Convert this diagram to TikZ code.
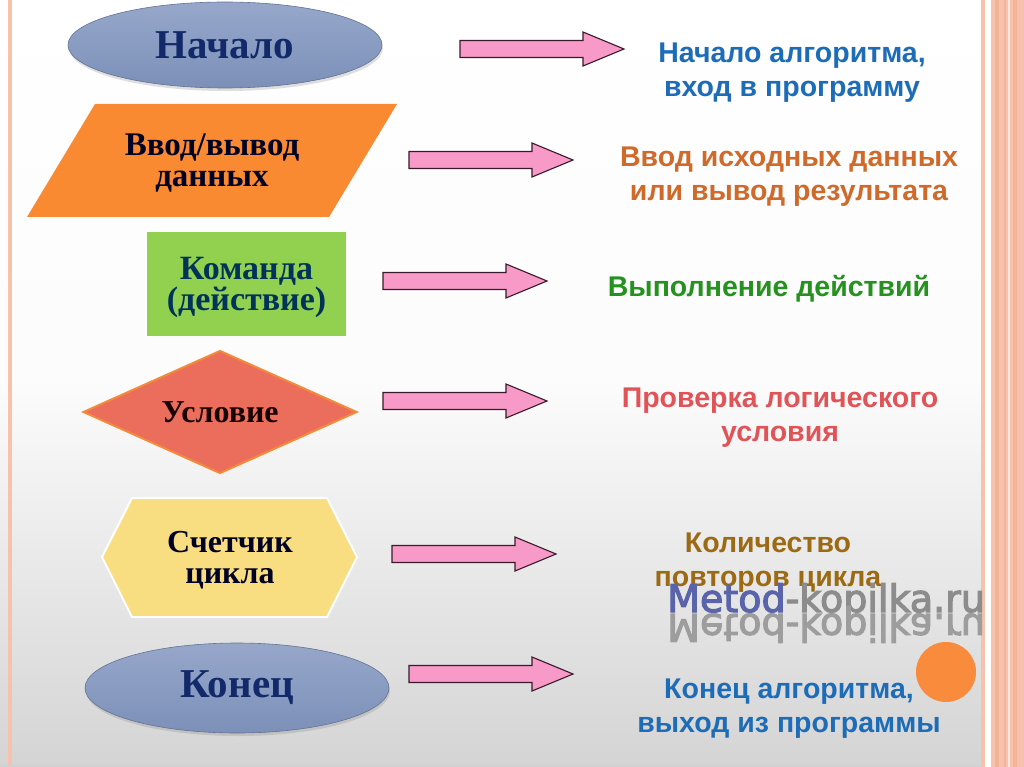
\documentclass[tikz,border=0pt]{standalone}
\usepackage{fontspec}
\usepackage{graphicx}
\setmainfont{Liberation Serif}
\newfontfamily\sansf{Liberation Sans}
\newfontfamily\wmf[BoldFont={DejaVu Sans},BoldFeatures={FakeBold=3}]{DejaVu Sans}
\usetikzlibrary{shapes.geometric,shadows}
\definecolor{bgbot}{HTML}{D4D4D4}
\definecolor{framepink}{HTML}{F6C2AC}
\definecolor{framedark}{HTML}{F4B49A}
\definecolor{elltop}{HTML}{96A7CA}
\definecolor{ellbot}{HTML}{7C90B8}
\definecolor{navy}{HTML}{12296A}
\definecolor{paraorange}{HTML}{F98A32}
\definecolor{boxgreen}{HTML}{92D050}
\definecolor{diafill}{HTML}{EB6E5C}
\definecolor{diaedge}{HTML}{F38B3B}
\definecolor{hexfill}{HTML}{F8DE80}
\definecolor{arrowpink}{HTML}{F79AC8}
\definecolor{arrowline}{HTML}{3A1A2A}
\definecolor{tblue}{HTML}{1D6CB8}
\definecolor{torange}{HTML}{CF6A2B}
\definecolor{tgreen}{HTML}{25921F}
\definecolor{tred}{HTML}{E05458}
\definecolor{tbrown}{HTML}{9C6A12}
\definecolor{wmblue}{HTML}{5A64AA}
\definecolor{wmgray}{HTML}{8C8C8C}
\definecolor{wmorange}{HTML}{F98B3C}
\tikzset{
  blockarrow/.pic={\draw[fill=arrowpink, draw=arrowline, line width=1.1pt, line join=miter]
     (0,-8.5) -- (123,-8.5) -- (123,-17) -- (164,0) -- (123,17) -- (123,8.5) -- (0,8.5) -- cycle;},
  termbox/.style={ellipse, inner sep=0pt, top color=elltop, bottom color=ellbot,
     draw=ellbot!80!black, line width=0.6pt,
     drop shadow={opacity=0.25, shadow xshift=1pt, shadow yshift=-3pt},
     text=navy, font=\bfseries\fontsize{41}{44}\selectfont},
  shapetext/.style={align=center, inner sep=0pt, font=\bfseries\fontsize{33}{31}\selectfont},
  desc/.style={align=center, inner sep=0pt, font=\sansf\bfseries\fontsize{28.5}{34}\selectfont},
}
\begin{document}
\begin{tikzpicture}[x=1pt, y=-1pt]
\useasboundingbox (0,0) rectangle (1024,767);
% background
\shade[top color=white, bottom color=bgbot, middle color=white!92!bgbot] (0,0) rectangle (1024,767);
% frame
\fill[framepink] (8,0) rectangle (12,767);
\fill[framepink] (981,0) rectangle (985,767);
\fill[white] (985,0) rectangle (991,767);
\fill[framepink] (991,0) rectangle (1024,767);
\fill[framedark] (995,0) rectangle (999,767);
\fill[framedark] (1004,0) rectangle (1006,767);
\fill[framedark] (1013,0) rectangle (1017,767);
\fill[white!60!framepink] (1008,0) rectangle (1010,767);
\fill[black!18] (0,765) rectangle (981,767);

% left shapes
\node[termbox, minimum width=314, minimum height=86] (start) at (225,45) {Начало};

\fill[paraorange] (95,104) -- (397,104) -- (329,217) -- (27,217) -- cycle;
\node[shapetext, text=black!80!blue!70!black] (io) at (212,163) {Ввод/вывод\\данных};

\node[rectangle, fill=boxgreen, minimum width=199, minimum height=104, inner sep=0pt] (cmdbox) at (246.5,284) {};
\node[shapetext, text=black!75!blue!60!teal, font=\bfseries\fontsize{34}{31}\selectfont] (cmd) at (246.5,287) {Команда\\(действие)};

\node[diamond, fill=diafill, draw=diaedge, line width=2pt, minimum width=274, minimum height=123, inner sep=0pt] (condbox) at (220,412) {};
\node[shapetext, text=black!90!red, font=\bfseries\fontsize{32}{31}\selectfont] (cond) at (220,412) {Условие};

\draw[fill=hexfill, draw=white, line width=2pt] (102,557) -- (132,498) -- (327,498) -- (357,557) -- (327,617) -- (132,617) -- cycle;
\node[shapetext, text=black!80!blue!70!black, font=\bfseries\fontsize{32}{31}\selectfont] (loop) at (230,560) {Счетчик\\цикла};

\node[termbox, minimum width=304, minimum height=90] (stop) at (237,688) {Конец};

% arrows
\pic (a1) at (460,49) {blockarrow};
\pic (a2) at (409,160) {blockarrow};
\pic (a3) at (383,281) {blockarrow};
\pic (a4) at (383,401) {blockarrow};
\pic (a5) at (392,554) {blockarrow};
\pic (a6) at (409,674) {blockarrow};

% descriptions
\node[desc, text=tblue] (d1) at (792,73) {Начало алгоритма,\\вход в программу};
\node[desc, text=torange] (d2) at (789,177) {Ввод исходных данных\\или вывод результата};
\node[desc, text=tgreen] (d3) at (769,289) {Выполнение действий};
\node[desc, text=tred] (d4) at (780,418) {Проверка логического\\условия};
\node[desc, text=tbrown] (d5) at (768,563) {Количество\\повторов цикла};
\node[desc, text=tblue] (d6) at (789,709) {Конец алгоритма,\\выход из программы};

% watermark
\node[anchor=base west, inner sep=0pt, font=\wmf\bfseries\fontsize{38}{40}\selectfont] (wm) at (667,612)
  {\textcolor{wmblue}{Metod}\textcolor{wmgray}{-kopilka.ru}};
\node[anchor=base west, inner sep=0pt, font=\wmf\bfseries\fontsize{38}{40}\selectfont, text=wmgray!85] (wmr) at (667,614)
  {\scalebox{1}[-1]{Metod-kopilka.ru}};
\fill[wmorange] (946,672) circle[radius=30];
\end{tikzpicture}
\end{document}
